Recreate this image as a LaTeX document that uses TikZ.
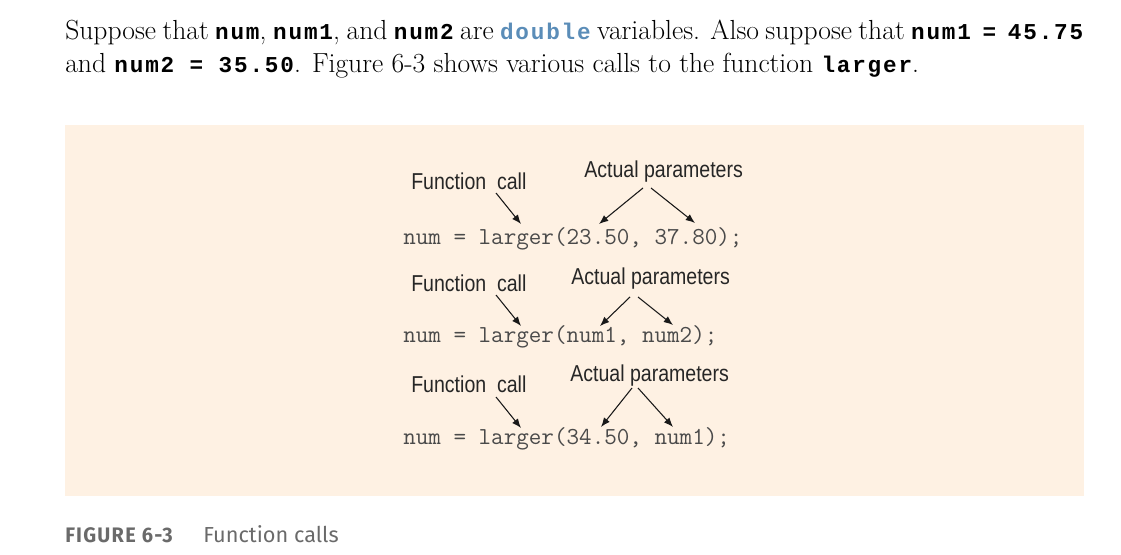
\documentclass[tikz,border=0pt]{standalone}
\usepackage{fontspec}
\usetikzlibrary{arrows.meta}
\newfontfamily\labelfont[FakeStretch=0.85]{Liberation Sans}
\newfontfamily\capfont{Fira Sans}
\newfontfamily\capboldfont[LetterSpace=6,FakeStretch=0.95]{Fira Sans Bold}
\newfontfamily\inlinefont[LetterSpace=8]{Liberation Mono}
\definecolor{boxfill}{HTML}{FEF1E3}
\definecolor{codegray}{HTML}{4A4A4A}
\definecolor{typeblue}{HTML}{5B8DB8}
\definecolor{capgray}{HTML}{6A6A6A}
\newcommand{\ic}[1]{{\inlinefont\bfseries\fontsize{17}{20}\selectfont #1}}
\tikzset{
  textline/.style={anchor=base west, inner sep=0pt, font=\fontsize{20.7}{24}\selectfont},
  label/.style={anchor=base west, inner sep=0pt, text=black!85, font=\labelfont\fontsize{17.25}{20}\selectfont},
  code/.style={anchor=base west, inner sep=0pt, text=codegray, font=\ttfamily\fontsize{18.3}{20}\selectfont},
  pointer/.style={-{Latex[length=7pt,width=5.5pt]}, line width=0.8pt, black!90}
}
\begin{document}
\begin{tikzpicture}[x=0.75pt,y=-0.75pt]
  \useasboundingbox (0,0) rectangle (1121,555);
  % text above the figure
  \node[textline] (line1) at (65,40) {\makebox[763.5pt][s]{Suppose that \ic{num}, \ic{num1}, and \ic{num2} are {\color{typeblue}\ic{double}} variables. Also suppose that \ic{num1 = 45.75}}};
  \node[textline] (line2) at (65,73) {and \ic{num2 = 35.50}. Figure 6-3 shows various calls to the function \ic{larger}.};
  % figure panel
  \fill[boxfill] (65,125) rectangle (1084,496);
  % first call
  \node[label] (fc1) at (411,190) {Function\ \ call};
  \node[label] (ap1) at (584,178) {Actual parameters};
  \node[code] (call1) at (403,245) {num = larger(23.50, 37.80);};
  \coordinate (fc1s) at (496,193);
  \coordinate (fc1e) at (521,224);
  \coordinate (ap1ls) at (643,188);
  \coordinate (ap1le) at (599,224);
  \coordinate (ap1rs) at (651,188);
  \coordinate (ap1re) at (695,223);
  % second call
  \node[label] (fc2) at (411,292) {Function\ \ call};
  \node[label] (ap2) at (571,285) {Actual parameters};
  \node[code] (call2) at (403,343) {num = larger(num1, num2);};
  \coordinate (fc2s) at (496,295);
  \coordinate (fc2e) at (521,326);
  \coordinate (ap2ls) at (630,297);
  \coordinate (ap2le) at (600,326);
  \coordinate (ap2rs) at (638,297);
  \coordinate (ap2re) at (673,325);
  % third call
  \node[label] (fc3) at (411,393) {Function\ \ call};
  \node[label] (ap3) at (570,382) {Actual parameters};
  \node[code] (call3) at (403,445) {num = larger(34.50, num1);};
  \coordinate (fc3s) at (496,397);
  \coordinate (fc3e) at (521,428);
  \coordinate (ap3ls) at (632,388);
  \coordinate (ap3le) at (601,427);
  \coordinate (ap3rs) at (638,388);
  \coordinate (ap3re) at (673,427);
  \begin{scope}[pointer]
    \draw (fc1s) to (fc1e);
    \draw (ap1ls) to (ap1le);
    \draw (ap1rs) to (ap1re);
    \draw (fc2s) to (fc2e);
    \draw (ap2ls) to (ap2le);
    \draw (ap2rs) to (ap2re);
    \draw (fc3s) to (fc3e);
    \draw (ap3ls) to (ap3le);
    \draw (ap3rs) to (ap3re);
  \end{scope}
  % caption
  \node[anchor=base west, inner sep=0pt, text=capgray, font=\capboldfont\fontsize{15.75}{18}\selectfont] (capnum) at (65,543) {FIGURE 6-3};
  \node[anchor=base west, inner sep=0pt, text=capgray, font=\capfont\fontsize{16.3}{18}\selectfont] (captext) at (203,543) {Function calls};
\end{tikzpicture}
\end{document}
